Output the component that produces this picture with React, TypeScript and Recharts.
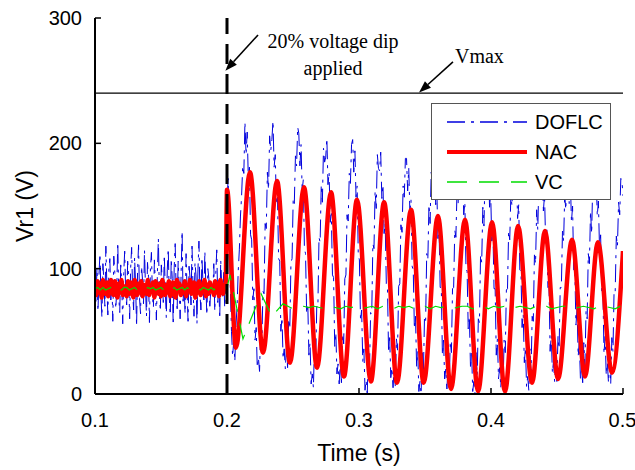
import React from 'react';
import { LineChart, Line, XAxis, YAxis, ReferenceLine } from 'recharts';

// axes
const X_TICKS = [0.1, 0.2, 0.3, 0.4, 0.5];
const Y_TICKS = [0, 100, 200, 300];
const DIP_TIME = 0.2;
const VMAX = 240;

// DOFLC before the dip, one sample every 0.75 ms from 0.1 s
const DOFLC_PRE_T0 = 0.1;
const DOFLC_PRE_DT = 0.00075;
const doflcPre = [
  88, 74, 101, 66, 95, 112, 79, 61, 104, 90, 70, 118, 86, 63, 99, 108, 75, 92, 58, 110,
  97, 68, 84, 121, 77, 65, 103, 89, 56, 96, 114, 80, 71, 106, 93, 60, 100, 117, 82, 67,
  109, 87, 54, 98, 119, 76, 64, 102, 91, 72, 115, 85, 62, 105, 94, 57, 100, 113, 78, 69,
  107, 88, 59, 96, 124, 81, 66, 103, 90, 73, 111, 84, 61, 99, 116, 77, 63, 108, 92, 55,
  101, 120, 79, 68, 106, 87, 60, 97, 130, 74, 89, 64, 112, 83, 58, 102, 93, 71, 118, 86,
  62, 105, 95, 56, 99, 122, 80, 67, 109, 90, 75, 114, 85, 63, 100, 92, 70, 84, 88, 79,
  104, 66, 96, 115, 73, 91, 60, 107, 86, 78, 97, 69, 88,
];
// DOFLC after the dip, one sample every 0.85 ms from 0.2 s (one row per cycle)
const DOFLC_POST_T0 = 0.2;
const DOFLC_POST_DT = 0.00085;
const doflcPost = [
  150, 172, 120, 84, 50, 30, 42, 26, 55, 70, 98, 115, 142, 158, 182, 176,
  217, 191, 209, 172, 181, 127, 123, 75, 84, 43, 53, 21, 29, 18, 52, 36, 82, 80, 136, 132, 177, 163, 206, 194,
  203, 218, 181, 191, 151, 157, 108, 106, 50, 61, 28, 36, 20, 38, 21, 60, 52, 105, 108, 156, 152, 190, 182, 213,
  208, 182, 199, 162, 171, 116, 112, 64, 72, 31, 41, 8, 16, 5, 40, 24, 70, 69, 125, 121, 167, 153, 196, 185,
  189, 204, 167, 177, 137, 144, 95, 93, 38, 49, 16, 24, 8, 26, 9, 48, 40, 92, 95, 143, 138, 176, 168, 199,
  203, 177, 194, 157, 166, 111, 107, 59, 67, 26, 36, 3, 11, 0, 35, 19, 65, 64, 120, 116, 162, 148, 191, 180,
  178, 193, 156, 167, 128, 136, 88, 87, 33, 45, 13, 21, 5, 23, 6, 44, 35, 86, 88, 135, 129, 166, 157, 188,
  188, 162, 180, 145, 155, 102, 99, 52, 62, 22, 34, 2, 10, 0, 33, 15, 60, 57, 112, 107, 151, 136, 177, 165,
  173, 188, 151, 163, 124, 132, 85, 85, 31, 43, 12, 20, 4, 22, 5, 42, 33, 84, 85, 131, 125, 162, 152, 183,
  186, 160, 178, 143, 153, 100, 98, 52, 62, 22, 34, 2, 10, 0, 33, 15, 60, 57, 111, 105, 149, 134, 175, 163,
  170, 185, 149, 160, 122, 131, 84, 84, 31, 44, 12, 21, 5, 23, 5, 43, 33, 83, 84, 130, 123, 159, 150, 180,
  182, 156, 175, 140, 151, 99, 98, 53, 64, 25, 37, 6, 14, 3, 36, 18, 62, 58, 111, 104, 147, 131, 172, 159,
  167, 182, 146, 159, 121, 131, 85, 86, 34, 47, 17, 26, 10, 28, 10, 46, 36, 85, 85, 130, 122, 158, 147, 177,
  178, 152, 172, 137, 150, 99, 99, 55, 68, 30, 42, 12, 20, 9, 41, 23, 66, 60, 112, 104, 146, 128, 169, 155,
  162, 177, 142, 154, 117, 127, 82, 84, 32, 46, 15, 25, 9, 27, 8, 45, 34, 83, 82, 126, 118, 153, 143, 172,
  170, 158,
];

// NAC before the dip, one sample every 1 ms from 0.1 s
const NAC_PRE_T0 = 0.1;
const NAC_PRE_DT = 0.001;
const nacPre = [
  86, 79, 90, 81, 88, 77, 91, 83, 80, 89, 78, 87, 91, 82, 79, 90, 84, 77, 88, 81,
  91, 79, 86, 83, 78, 90, 80, 89, 82, 77, 91, 85, 79, 88, 81, 90, 78, 87, 83, 80,
  91, 79, 86, 82, 89, 77, 90, 84, 80, 88, 78, 91, 83, 79, 87, 81, 90, 78, 85, 89,
  80, 77, 91, 83, 88, 79, 86, 81, 90, 78, 87, 82, 91, 80, 84, 89, 77, 88, 81, 90,
  79, 86, 83, 91, 78, 87, 80, 89, 82, 85, 79, 90, 81, 88, 78, 91, 84, 80, 87, 84,
];
// NAC after the dip: peaks and troughs
const nacPostT = [
  0.2, 0.2068, 0.2174, 0.2273, 0.2379, 0.2477, 0.2583, 0.2682, 0.2788, 0.2886, 0.2985,
  0.309, 0.319, 0.3288, 0.3394, 0.349, 0.3598, 0.3697, 0.3803, 0.3902, 0.4008, 0.4106,
  0.4205, 0.4311, 0.4409, 0.4508, 0.4614, 0.4712, 0.481, 0.4917, 0.5,
];
const nacPostV = [
  163, 37, 177, 33, 170, 25, 165, 21, 161, 14, 155,
  10, 153, 9, 147, 9, 142, 4, 139, 2, 137, 2,
  134, 9, 130, 12, 123, 14, 121, 17, 114,
];

// VC before the dip, one sample every 2 ms from 0.1 s
const VC_PRE_T0 = 0.1;
const VC_PRE_DT = 0.002;
const vcPre = [
  84, 85, 83, 85, 83, 84, 85, 83, 85, 84, 83, 85, 85, 83, 84, 85, 83, 85, 84, 83,
  85, 84, 85, 83, 84, 85, 83, 85, 84, 83, 85, 83, 84, 85, 83, 85, 83, 84, 85, 84,
  83, 85, 84, 83, 85, 83, 85, 84, 83, 84,
];
// VC transient
const vcDipT = [0.2, 0.2023, 0.2121, 0.2258, 0.234, 0.2424, 0.25];
const vcDipV = [85, 95, 44, 80, 62, 72, 68];
// VC settled, one sample every 4 ms from 0.254 s
const VC_POST_T0 = 0.254;
const VC_POST_DT = 0.004;
const vcPost = [
  68, 70, 69, 70, 69, 68, 70, 69, 68, 70, 69, 70, 68, 69, 70, 68, 70, 69, 68, 70,
  69, 70, 68, 69, 70, 68, 70, 69, 70, 68, 69, 70, 70, 68, 69, 70, 68, 70, 69, 70,
  68, 69, 70, 69, 68, 70, 69, 70, 68, 69, 70, 70, 68, 69, 70, 69, 68, 70, 70, 69,
  68, 70,
];

const sampled = (t0: number, dt: number, vals: number[]) =>
  vals.map((v, i) => ({ t: +(t0 + i * dt).toFixed(5), v }));
const paired = (ts: number[], vs: number[]) => ts.map((t, i) => ({ t, v: vs[i] }));

const SANS = "'Liberation Sans', Arial, sans-serif";
const SERIF = "'Liberation Serif', 'Times New Roman', serif";

const SERIES = [
  {
    name: 'DOFLC', color: '#0000dd', width: 1, dash: '18 6 3 6', curve: 'linear',
    data: [...sampled(DOFLC_PRE_T0, DOFLC_PRE_DT, doflcPre), ...sampled(DOFLC_POST_T0, DOFLC_POST_DT, doflcPost)],
  },
  {
    name: 'NAC', color: '#ff0000', width: 4.5, dash: undefined, curve: 'monotone',
    data: [...sampled(NAC_PRE_T0, NAC_PRE_DT, nacPre), ...paired(nacPostT, nacPostV)],
  },
  {
    name: 'VC', color: '#00dd00', width: 1.2, dash: '20 12', curve: 'linear',
    data: [...sampled(VC_PRE_T0, VC_PRE_DT, vcPre), ...paired(vcDipT, vcDipV), ...sampled(VC_POST_T0, VC_POST_DT, vcPost)],
  },
];

// arrow from segment[0] (tail) to segment[1] (tip), text hung off the tail
function arrow(lines: string[], dx: number, dy: number, gap: number, anchor: 'start' | 'middle') {
  return (p: any) => {
    const { x1, y1, x2, y2 } = p;
    const a = Math.atan2(y2 - y1, x2 - x1);
    const L = 12;
    const W = 4.5;
    const bx = x2 - L * Math.cos(a);
    const by = y2 - L * Math.sin(a);
    const px = -Math.sin(a) * W;
    const py = Math.cos(a) * W;
    return (
      <g>
        <line x1={x1} y1={y1} x2={bx} y2={by} stroke="#000" strokeWidth={1.6} />
        <polygon points={`${x2},${y2} ${bx + px},${by + py} ${bx - px},${by - py}`} fill="#000" />
        {lines.map((s, i) => (
          <text key={i} x={x1 + dx} y={y1 + dy + i * gap} textAnchor={anchor} fontFamily={SERIF} fontSize={20} fill="#000">
            {s}
          </text>
        ))}
      </g>
    );
  };
}

function LegendBox() {
  return (
    <div
      style={{
        position: 'absolute', left: 431, top: 103, width: 180, height: 97,
        background: '#fff', border: '1.5px solid #555', boxSizing: 'border-box',
      }}
    >
      <svg width={177} height={94} style={{ display: 'block' }}>
        {SERIES.map((s, i) => {
          const y = 18 + i * 30;
          return (
            <g key={s.name}>
              <line x1={15} x2={95} y1={y} y2={y} stroke={s.color} strokeWidth={s.name === 'NAC' ? 4 : 1.3} strokeDasharray={s.dash} />
              <text x={103} y={y} dominantBaseline="central" fontFamily={SANS} fontSize={20} fill="#000">{s.name}</text>
            </g>
          );
        })}
      </svg>
    </div>
  );
}

export default function App() {
  return (
    <div style={{ position: 'absolute', left: 0, top: 0, width: 635, height: 470, background: '#fff' }}>
      <LineChart width={635} height={470} margin={{ top: 18, right: 12, bottom: 0, left: 0 }}>
        <XAxis
          dataKey="t"
          type="number"
          domain={[0.1, 0.5]}
          ticks={X_TICKS}
          allowDataOverflow
          height={76}
          tickSize={-6}
          tickMargin={25}
          axisLine={{ stroke: '#000', strokeWidth: 2 }}
          tickLine={{ stroke: '#000', strokeWidth: 1.5 }}
          tick={{ fontSize: 20, fill: '#000', fontFamily: SANS }}
          label={{
            content: (p: any) => {
              const vb = p.viewBox;
              return (
                <text x={vb.x + vb.width / 2} y={vb.y + 67} textAnchor="middle" fontFamily={SANS} fontSize={23} fill="#000">
                  Time (s)
                </text>
              );
            },
          }}
        />
        <YAxis
          dataKey="v"
          type="number"
          domain={[0, 300]}
          ticks={Y_TICKS}
          allowDataOverflow
          width={95}
          tickSize={-6}
          tickMargin={19}
          axisLine={{ stroke: '#000', strokeWidth: 2 }}
          tickLine={{ stroke: '#000', strokeWidth: 1.5 }}
          tick={{ fontSize: 20, fill: '#000', fontFamily: SANS }}
          label={{
            content: (p: any) => {
              const vb = p.viewBox;
              const cx = vb.x + 25;
              const cy = vb.y + vb.height / 2;
              return (
                <text x={cx} y={cy} transform={`rotate(-90 ${cx} ${cy})`} textAnchor="middle" dominantBaseline="central" fontFamily={SANS} fontSize={23} fill="#000">
                  Vr1 (V)
                </text>
              );
            },
          }}
        />
        <ReferenceLine y={VMAX} stroke="#000" strokeWidth={1.2} />
        {SERIES.map((s) => (
          <Line
            key={s.name}
            data={s.data}
            dataKey="v"
            name={s.name}
            type={s.curve as any}
            stroke={s.color}
            strokeWidth={s.width}
            strokeDasharray={s.dash}
            dot={false}
            activeDot={false}
            isAnimationActive={false}
          />
        ))}
        <ReferenceLine x={DIP_TIME} stroke="#000" strokeWidth={3} strokeDasharray="20 10" />
        <ReferenceLine
          segment={[{ x: 0.2235, y: 286.5 }, { x: 0.1988, y: 258 }]}
          shape={arrow(['20% voltage dip', 'applied'], 75, 13, 27, 'middle')}
        />
        <ReferenceLine
          segment={[{ x: 0.3712, y: 265 }, { x: 0.3455, y: 240.5 }]}
          shape={arrow(['Vmax'], 2, 1, 0, 'start')}
        />
      </LineChart>
      <LegendBox />
    </div>
  );
}
